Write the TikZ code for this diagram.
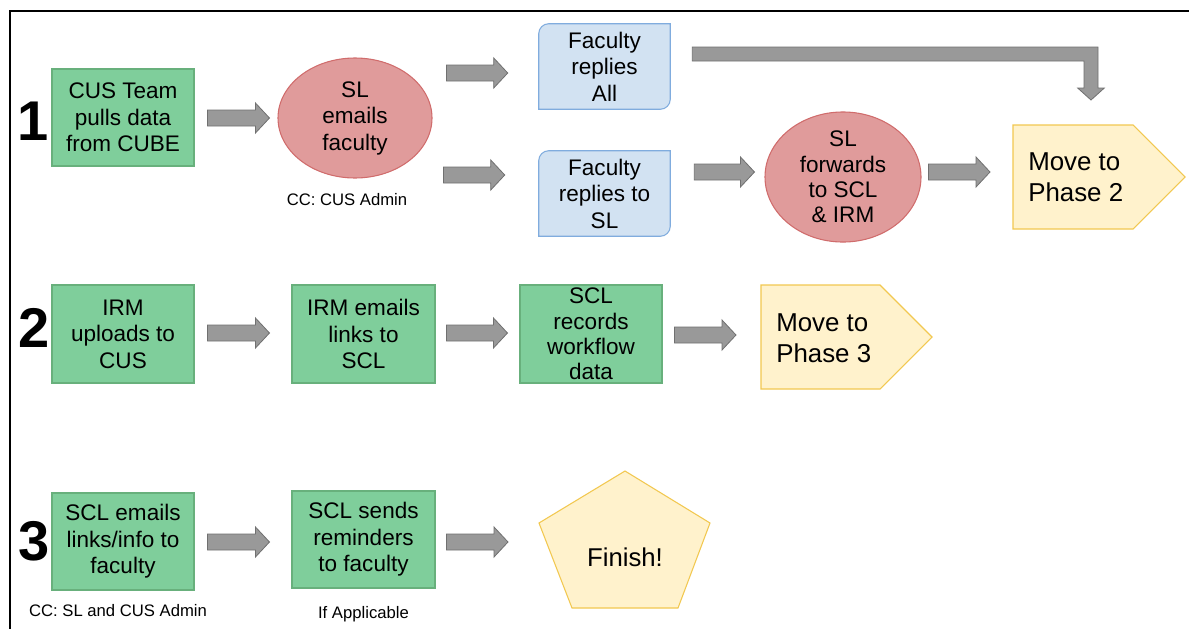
\documentclass[tikz,border=0pt]{standalone}
\usepackage{fontspec}
\setmainfont{Liberation Sans}
\usetikzlibrary{calc,backgrounds}
\definecolor{gfill}{RGB}{127,206,155}
\definecolor{gline}{RGB}{104,176,124}
\definecolor{rfill}{RGB}{224,155,155}
\definecolor{rline}{RGB}{208,108,108}
\definecolor{bfill}{RGB}{210,226,242}
\definecolor{bline}{RGB}{128,172,222}
\definecolor{yfill}{RGB}{255,242,204}
\definecolor{yline}{RGB}{242,200,80}
\definecolor{afill}{RGB}{153,153,153}
\definecolor{aline}{RGB}{112,112,112}
\tikzset{
  x=0.75pt, y=-0.75pt,
  txt/.style={font=\fontsize{16.9}{19.9}\selectfont, align=center, inner sep=0pt},
  gbox/.style={txt, rectangle, draw=gline, fill=gfill, line width=0.8pt, minimum width=106.5pt, minimum height=72.75pt},
  rell/.style={txt, ellipse, draw=rline, fill=rfill, line width=0.8pt},
  bluest/.style={draw=bline, fill=bfill, line width=0.8pt},
  yst/.style={draw=yline, fill=yfill, line width=0.8pt},
  garrow/.style={draw=aline, fill=afill, line width=0.6pt},
  small/.style={font=\fontsize{12.5}{14}\selectfont, inner sep=0pt},
  num/.style={font=\fontsize{42}{42}\selectfont\bfseries, inner sep=0pt},
  big/.style={font=\fontsize{19.4}{23.25}\selectfont, align=left, inner sep=0pt},
}
\newcommand\barr[2]{%
  \draw[garrow] let \p1=#1, \p2=#2 in
  (\x1,\y1+6pt) -- (\x2-10.5pt,\y1+6pt) -- (\x2-10.5pt,\y1+11.25pt) -- (\x2,\y1)
  -- (\x2-10.5pt,\y1-11.25pt) -- (\x2-10.5pt,\y1-6pt) -- (\x1,\y1-6pt) -- cycle;}
\newcommand\bluebox[1]{%
  \filldraw[bluest] (#1.north east) -- ([yshift=7.5pt]#1.south east)
  arc[start angle=0,end angle=-90,radius=7.5pt] -- (#1.south west)
  -- ([yshift=-7.5pt]#1.north west) arc[start angle=180,end angle=90,radius=7.5pt] -- cycle;}
\usetikzlibrary{shapes.geometric}
\begin{document}
\begin{tikzpicture}
\useasboundingbox (0,0) rectangle (1189,629);
\draw[line width=1.6pt] (1189,11) -- (10,11) -- (10,629);

% numbers
\node[num] (n1) at (33,121) {1};
\node[num] (n2) at (34,328) {2};
\node[num] (n3) at (34,541) {3};

% row 1
\node[gbox] (b1) at (123,117.5) {CUS Team\\pulls data\\from CUBE};
\node[rell, minimum width=115.5pt, minimum height=90pt] (sl) at (355,118) {SL\\emails\\faculty};
\node[small] (cc1) at ($(sl.south)+(-8,21)$) {CC: CUS Admin};
\node[txt, minimum width=98.25pt, minimum height=63.75pt] (fa) at (604.5,66.5) {Faculty\\replies\\All};
\node[txt, minimum width=98.25pt, minimum height=63.75pt] (fr) at (604.5,193.5) {Faculty\\replies to\\SL};
\node[rell, minimum width=117pt, minimum height=89.25pt, font=\fontsize{16.9}{19}\selectfont] (sf) at (843,177) {SL\\forwards\\to SCL\\\& IRM};
\node[big, anchor=west, inner xsep=11.25pt] (mp2) at (1013,177) {Move to\\Phase 2};

% row 2
\node[gbox, minimum height=73.5pt] (b4) at (123,334) {IRM\\uploads to\\CUS};
\node[gbox, minimum width=107.25pt, minimum height=73.5pt] (b5) at (363.5,334) {IRM emails\\links to\\SCL};
\node[gbox, minimum height=73.5pt, font=\fontsize{16.9}{19}\selectfont] (b6) at (591,334) {SCL\\records\\workflow\\data};
\node[big, anchor=west, inner xsep=11.25pt] (mp3) at (761,338) {Move to\\Phase 3};

% row 3
\node[gbox] (b7) at (123,541.5) {SCL emails\\links/info to\\faculty};
\node[small] (cc3) at ($(b7.south)+(-5,20)$) {CC: SL and CUS Admin};
\node[gbox, minimum width=107.25pt] (b8) at (363.5,539.5) {SCL sends\\reminders\\to faculty};
\node[small] (ifa) at ($(b8.south)+(0,26)$) {If Applicable};
\node[txt, font=\fontsize{19.3}{22}\selectfont] (fin) at (625,557) {Finish!};

\begin{pgfonlayer}{background}
  \fill[white] (0,0) rectangle (1189,629);
  \bluebox{fa}
  \bluebox{fr}
  \filldraw[yst] (mp2.west) ++(0,-52) -- ++(120,0) -- ++(52,52) -- ++(-52,52) -- ++(-120,0) -- cycle;
  \filldraw[yst] (mp3.west) ++(0,-53) -- ++(119,0) -- ++(52,52) -- ++(-52,52) -- ++(-119,0) -- cycle;
  \filldraw[yst] ($(fin)+(0,-86)$) -- ($(fin)+(85,-34)$) -- ($(fin)+(53,51)$)
     -- ($(fin)+(-53,51)$) -- ($(fin)+(-86,-34)$) -- cycle;
\end{pgfonlayer}

% block arrows
\barr{($(b1.east)+(13,0.5)$)}{($(sl.west)+(-8,0)$)}
\barr{($(sl.east)+(14,-45)$)}{($(fa.west)+(-31,0)$)}
\barr{($(sl.east)+(11,57)$)}{($(fr.west)+(-34,0)$)}
\barr{($(fr.east)+(24,-21.5)$)}{($(sf.west)+(-10,0)$)}
\barr{($(sf.east)+(7,-5)$)}{($(mp2.west)+(-23,0)$)}
\barr{($(b4.east)+(13,-1)$)}{($(b5.west)+(-22,0)$)}
\barr{($(b5.east)+(11,-1)$)}{($(b6.west)+(-12,0)$)}
\barr{($(b6.east)+(12,1)$)}{($(mp3.west)+(-25,0)$)}
\barr{($(b7.east)+(13,0.5)$)}{($(b8.west)+(-22,0)$)}
\barr{($(b8.east)+(11,2.5)$)}{($(fin)+(-117,0)$)}

% elbow arrow
\draw[garrow] let \p1=($(fa.east)+(22,-12.5)$), \p2=($(mp2.west)+(78,-77)$) in
  (\x1,\y1+5.25pt) -- (\x2+5.25pt,\y1+5.25pt) -- (\x2+5.25pt,\y2+9pt) -- (\x2+10pt,\y2+9pt)
  -- (\x2,\y2) -- (\x2-10pt,\y2+9pt) -- (\x2-5.25pt,\y2+9pt) -- (\x2-5.25pt,\y1-5.25pt)
  -- (\x1,\y1-5.25pt) -- cycle;
\end{tikzpicture}
\end{document}
